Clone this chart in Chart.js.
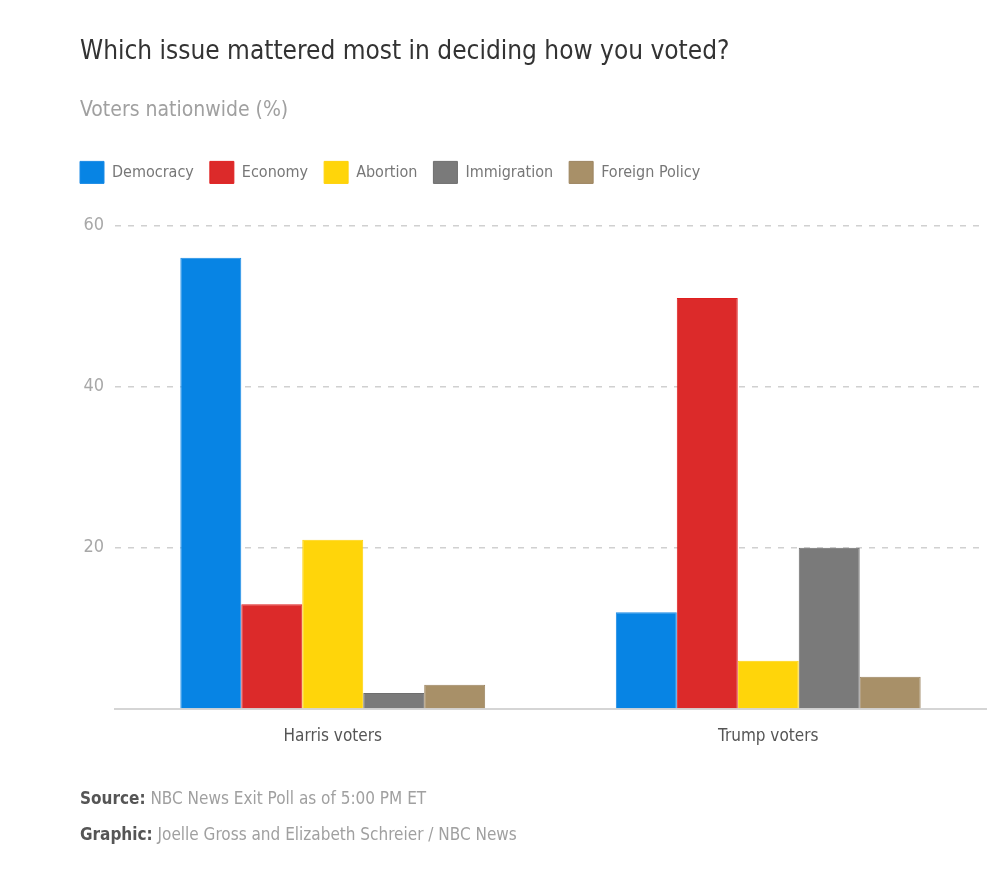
<!DOCTYPE html>
<html>
<head>
<meta charset="utf-8">
<script src="https://cdn.jsdelivr.net/npm/chart.js@4/dist/chart.umd.min.js"></script>
<style>
  html, body { margin: 0; padding: 0; background: #fff; }
  #wrap { position: relative; width: 1000px; height: 873px; }
  #footer { position: absolute; left: 80px; top: 780px; font-family: 'Liberation Sans Narrow', 'DejaVu Sans Condensed', 'Roboto Condensed', sans-serif; font-size: 17px; color: #a0a0a0; line-height: 36px; }
  #footer b { color: #555; font-weight: bold; }
</style>
</head>
<body>
<div id="wrap">
  <canvas id="c"></canvas>
  <div id="footer">
    <div><b>Source:</b> NBC News Exit Poll as of 5:00 PM ET</div>
    <div><b>Graphic:</b> Joelle Gross and Elizabeth Schreier / NBC News</div>
  </div>
</div>
<script>
const FONT = "'Liberation Sans Narrow', 'DejaVu Sans Condensed', 'Roboto Condensed', sans-serif";

const categories = ['Harris voters', 'Trump voters'];
const issues = ['Democracy', 'Economy', 'Abortion', 'Immigration', 'Foreign Policy'];
const democracy = [56, 12];
const economy = [13, 51];
const abortion = [21, 6];
const immigration = [2, 20];
const foreignPolicy = [3, 4];
const yTicks = [0, 20, 40, 60];

const colors = ['#0784e4', '#dc2a2a', '#ffd50a', '#7a7a7a', '#a89068'];
const borders = ['#1a8ae6', '#e01f1f', '#ffd20a', '#6e6e6e', '#9c8460'];
const seriesValues = [democracy, economy, abortion, immigration, foreignPolicy];

const datasets = issues.map((name, i) => ({
  label: name,
  data: seriesValues[i],
  backgroundColor: colors[i],
  borderColor: borders[i],
  borderWidth: 1,
  categoryPercentage: 0.7,
  barPercentage: 1.0
}));

const LEGEND_PAD = 16;
const legendTweak = {
  id: 'legendTweak',
  beforeUpdate(chart) {
    const lg = chart.legend;
    if (lg && !lg._patched) {
      const origFit = lg.fit;
      lg.fit = function () { origFit.call(this); this.height += 32; };
      lg._patched = true;
    }
  },
  afterLayout(chart) {
    const lg = chart.legend;
    if (lg) {
      lg.left = 80 - LEGEND_PAD;
      if (lg.adjustHitBoxes) lg.adjustHitBoxes();
    }
  }
};

new Chart(document.getElementById('c'), {
  type: 'bar',
  data: { labels: categories, datasets },
  plugins: [legendTweak],
  options: {
    responsive: true,
    maintainAspectRatio: false,
    animation: false,
    layout: { padding: { left: 80, right: 14, top: 0, bottom: 124 } },
    plugins: {
      title: {
        display: true,
        text: 'Which issue mattered most in deciding how you voted?',
        align: 'start',
        color: '#333',
        font: { family: FONT, size: 26, weight: '500' },
        padding: { top: 37, bottom: 0 }
      },
      subtitle: {
        display: true,
        text: 'Voters nationwide (%)',
        align: 'start',
        color: '#a0a0a0',
        font: { family: FONT, size: 21, weight: '300' },
        padding: { top: 30, bottom: 22 }
      },
      legend: {
        display: true,
        position: 'top',
        align: 'start',
        labels: {
          boxWidth: 24,
          boxHeight: 22,
          padding: LEGEND_PAD,
          color: '#777',
          font: { family: FONT, size: 16 }
        }
      },
      tooltip: { enabled: false }
    },
    scales: {
      x: {
        grid: { display: false, drawTicks: false },
        border: { display: true, color: '#d5d5d5', width: 2 },
        ticks: { color: '#555', font: { family: FONT, size: 17 }, padding: 17 },
        afterFit: (s) => { s.height = 40; }
      },
      y: {
        min: 0, max: 60,
        afterBuildTicks: (s) => { s.ticks = yTicks.map(v => ({ value: v })); },
        grid: { color: '#d0d0d0', drawTicks: false, lineWidth: 1.5 },
        border: { display: false, dash: [6, 7] },
        ticks: {
          color: '#a8a8a8',
          font: { family: FONT, size: 18 },
          padding: 11,
          callback: (v) => v === 0 ? '' : v
        },
        afterFit: (s) => { s.width = 35; }
      }
    }
  }
});
</script>
</body>
</html>
